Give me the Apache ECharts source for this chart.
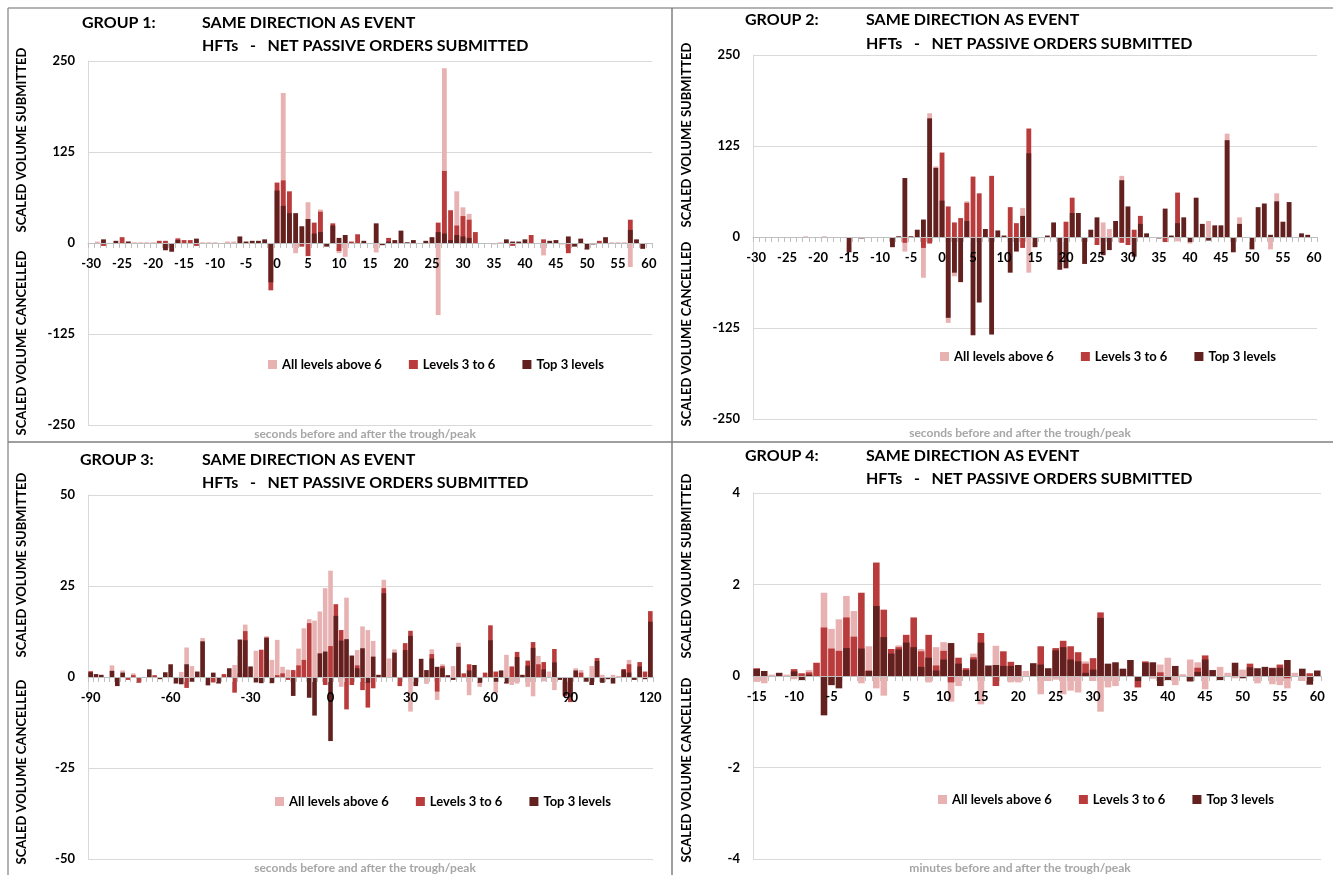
<!DOCTYPE html>
<html><head><meta charset="utf-8">
<script src="https://cdn.jsdelivr.net/npm/echarts@6/dist/echarts.min.js"></script>
<style>html,body{margin:0;padding:0;background:#fff}#c{width:1333px;height:875px}</style>
</head><body><div id="c"></div>
<script>
// ---------- categories / tick labels ----------
var secCats = [-30,-29,-28,-27,-26,-25,-24,-23,-22,-21,-20,-19,-18,-17,-16,-15,-14,-13,-12,-11,-10,-9,-8,-7,-6,-5,-4,-3,-2,-1,0,1,2,3,4,5,6,7,8,9,10,11,12,13,14,15,16,17,18,19,20,21,22,23,24,25,26,27,28,29,30,31,32,33,34,35,36,37,38,39,40,41,42,43,44,45,46,47,48,49,50,51,52,53,54,55,56,57,58,59,60];
var g3Cats = [-90,-88,-86,-84,-82,-80,-78,-76,-74,-72,-70,-68,-66,-64,-62,-60,-58,-56,-54,-52,-50,-48,-46,-44,-42,-40,-38,-36,-34,-32,-30,-28,-26,-24,-22,-20,-18,-16,-14,-12,-10,-8,-6,-4,-2,0,2,4,6,8,10,12,14,16,18,20,22,24,26,28,30,32,34,36,38,40,42,44,46,48,50,52,54,56,58,60,62,64,66,68,70,72,74,76,78,80,82,84,86,88,90,92,94,96,98,100,102,104,106,108,110,112,114,116,118,120];
var minCats = [-15,-14,-13,-12,-11,-10,-9,-8,-7,-6,-5,-4,-3,-2,-1,0,1,2,3,4,5,6,7,8,9,10,11,12,13,14,15,16,17,18,19,20,21,22,23,24,25,26,27,28,29,30,31,32,33,34,35,36,37,38,39,40,41,42,43,44,45,46,47,48,49,50,51,52,53,54,55,56,57,58,59,60];
var seriesNames = ['All levels above 6','Levels 3 to 6','Top 3 levels'];

// ---------- GROUP 1 (seconds -30..60) ----------
var g1Above6 = [0,2,0,-1,0,0,2,1,1,1,1,0,0,0,7,0,0,0,1,1,1,0,2,2,0,0,0,0,0,0,0,206,0,-14,0,56,0,46,0,0,-14,-19,0,0,0,0,-13,0,0,0,0,0,0,0,0,0,-99,240,0,71,49,40,0,0,-1,-2,1,0,0,0,0,0,0,-17,0,0,-2,0,0,0,0,0,0,0,1,1,1,-33,0,0,0];
var g1Lv36   = [0,0,-4,0,0,8,0,0,0,0,0,3,3,0,6,4,4,-4,0,0,0,0,0,0,0,0,0,0,0,-65,83,86,71,0,-5,-18,28,43,0,27,-11,0,2,12,0,0,0,0,7,0,0,0,0,0,0,0,28,99,45,24,37,32,15,0,0,0,0,0,-4,0,0,11,0,5,0,0,0,-14,0,0,0,0,3,0,0,0,0,32,0,0,0];
var g1Top3   = [-1,0,5,0,3,0,2,0,0,0,0,0,-10,-12,4,0,0,6,0,0,0,0,0,0,9,2,3,3,5,-54,72,51,41,41,23,33,13,15,-5,24,7,11,0,0,3,0,27,-3,2,4,17,1,4,0,3,8,15,13,4,11,9,7,0,0,0,0,0,5,2,2,5,0,0,0,3,4,0,9,-5,6,-9,-2,0,8,0,0,0,18,5,-8,0];

// ---------- GROUP 2 (seconds -30..60) ----------
var g2Above6 = [0,0,0,0,0,0,0,0,1,0,0,1,0,0,0,0,0,0,0,0,0,0,0,0,-20,0,0,-56,170,97,0,-118,-54,0,49,0,0,0,0,0,0,0,0,40,-49,0,0,0,0,0,0,0,0,0,0,0,20,11,0,84,0,0,0,0,0,0,0,0,-6,0,-9,0,0,22,0,0,142,0,27,0,0,0,0,-17,60,0,0,0,0,0,0];
var g2Lv36   = [0,0,0,0,0,0,0,0,0,0,0,0,0,0,0,0,0,0,0,0,0,0,0,0,-8,0,0,-15,-9,0,116,42,20,26,47,83,60,0,84,0,0,41,19,-15,149,0,0,0,0,0,21,54,0,0,0,-11,0,0,0,-8,-11,10,29,0,0,0,-7,0,61,0,0,0,0,0,0,0,0,0,0,0,0,0,0,0,0,0,0,0,0,0,0];
var g2Top3   = [0,0,0,0,0,0,0,0,0,0,0,0,0,0,0,-21,0,-2,0,0,0,0,-14,1,81,1,10,24,163,95,50,-111,-49,-62,22,-135,-90,11,-134,9,2,-49,-20,29,115,-14,-1,2,20,-45,-43,33,33,-37,10,27,-25,-18,22,78,42,-27,18,5,0,-2,39,2,19,27,-7,54,18,-5,16,16,133,-21,18,0,-17,41,46,3,49,21,48,0,5,3,0];

// ---------- GROUP 3 (seconds -90..120, every 2 s) ----------
var g3Above6 = [0,0,0,0,3.2,0,1.8,0,1,0,0,0,0,0,0,0,0,1.4,8.1,3,0,10.7,0,0,0,0,0,3.3,5.6,14.4,0,7.2,0,11.2,4.7,10.2,2.8,2,0,7.8,13.4,15.9,15.5,18,24.4,29.2,0,-2.7,21.8,0,7.4,13.9,12.9,9.9,0,26.7,5.1,7.6,0,0,-9.5,-1.9,0,-1.9,7.6,-6.3,3.5,0,3,9.4,0,-5,0,-2.7,0,0,-4.4,0,6.1,-2.2,-1.8,0,-2.7,-5.3,5.8,-1.2,1.5,-3.6,0,0,0,2.4,1.9,0,3,5.2,0.6,0,0.6,0.3,0,4.7,0,0,0,0];
var g3Lv36   = [1.6,0,0,0,0,0,0,-0.8,0.5,-1.6,0,0,0.5,0,0,0,0,0,-3,0,0,0,0,-1.5,0,0.8,0,-4.3,1,12.6,0,0,7.5,10.9,0,0.5,1,-0.8,1.9,3.2,4.7,14.8,0,0,-2.2,8.5,20,12.9,-8.9,-2.2,3.2,-3.6,-8.4,-3.1,0,24.4,0,0,-2.5,9.3,12.7,0,0,0,6.3,-4,3,0,0,0,1,3.5,0,0,1.2,14.2,1.5,0,0,2.9,6.9,0,4.5,9.6,3.5,4.1,0,7.7,0,-5.3,-6.9,0,1.2,0,0,5.2,0,0,0,0,2.2,3.5,0,4.1,1.5,18.1];
var g3Top3   = [1.3,0.8,0.6,0,1.7,-2.5,1.2,0,0,0,0,2.1,0,-0.6,1.3,3.5,-1.8,-2,3.5,-1.3,1.5,9.8,-2.3,1.2,-1.8,0,2.4,0,10.3,10.1,2.9,-1.5,-1.7,10.7,-1.7,0,0,0,-5.2,0,0,-5.7,-10.6,6.5,7,-17.6,16.8,10,10.4,5.9,2.4,7.9,-1.6,5.6,0.6,23,0,6.7,0,7.4,11.3,-2.5,5,1.9,5.1,2.8,2.4,0.5,-0.8,8.3,0,1.8,3.3,-1.6,0,10.1,-1.3,1.8,-1.8,0,5.5,0.6,3.1,8,0,2.1,0,4,-0.8,-5,-5.5,1.8,0,-1.3,-2.2,4.4,-1.6,-0.6,-1.8,0,1.9,1.2,-0.8,2.9,-0.6,15.2];

// ---------- GROUP 4 (minutes -15..60) ----------
var g4Above6 = [-0.13,-0.16,0.03,0,0.03,-0.07,0,0.13,0,1.82,1.03,1.24,1.75,1.42,-0.16,0.65,-0.27,-0.43,0,0.67,0,0,0.59,-0.14,0.63,0.74,-0.56,-0.22,0,0.49,-0.62,0,0.66,0,-0.14,-0.14,0.11,0,-0.4,-0.11,-0.08,-0.4,-0.32,-0.36,0.32,-0.11,-0.78,-0.25,-0.22,0,0,0,0,-0.06,0.25,0.4,-0.2,0.04,0.36,0.3,-0.29,0,0.2,0.07,-0.05,0.14,0,-0.16,0,-0.18,-0.2,-0.27,0.07,-0.11,0,0];
var g4Lv36   = [0.17,0,0,0,0,0.15,0.06,0.08,0.29,1.06,0.6,0.55,1.28,0.86,1.82,0.12,2.48,1.45,0.59,0.63,0.9,1.28,0.54,0.9,0.23,0.55,-0.14,0.4,0.17,0.41,0.94,0,-0.22,0.54,0.31,0,0,0,0.65,0,0.61,0.77,0.65,0.52,0.27,0.39,1.39,0,0,0,0,-0.25,0.32,0,0.08,0,0,0,0,0.18,0.45,0,0,0,0,0,0.27,0,0,0.18,0.25,-0.05,0,0,0.06,0];
var g4Top3   = [0.15,0.11,0,0.07,0,0.1,-0.09,0.03,0,-0.86,-0.2,-0.27,0.61,0,0.6,0.11,1.53,0.85,0.49,0.58,0.73,0.63,0.2,0.4,0.12,0.36,0.72,0.27,0.13,0.36,0.73,0.23,0.24,0.22,0.22,0.24,0,0.28,0.25,0.17,0.56,0.63,0.36,0.32,0.07,0.14,1.27,0.27,0.3,0.16,0.35,-0.11,0.29,0.3,-0.22,-0.09,0.22,0,-0.12,0.09,0.36,0.13,-0.09,0,0.29,-0.05,0.19,0.17,0.2,0.17,0.18,0.35,0,0.16,-0.19,0.12];

// ---------- styling ----------
var COLORS = ['#E8B2B2', '#B93B3B', '#62201F'];
var FONT = 'Lato, "Open Sans", "DejaVu Sans", sans-serif';

var panels = [
  {cats: secCats, data: [g1Above6, g1Lv36, g1Top3], grid: {left: 88, top: 61, width: 564, height: 364}, y: [-250, 250, 125], lblInt: 4, gap: '22%',
   title: [82, 202, 25, 48, 'GROUP 1:'], yname: [22, 140, 343], legend: [263, 353], xname: [365, 434, 'seconds before and after the trough/peak']},
  {cats: secCats, data: [g2Above6, g2Lv36, g2Top3], grid: {left: 753, top: 55, width: 564, height: 364}, y: [-250, 250, 125], lblInt: 4, gap: '22%',
   title: [745, 866, 22, 46, 'GROUP 2:'], yname: [687, 135, 334], legend: [935, 345], xname: [1020, 433, 'seconds before and after the trough/peak']},
  {cats: g3Cats, data: [g3Above6, g3Lv36, g3Top3], grid: {left: 88, top: 495, width: 565, height: 364}, y: [-50, 50, 25], lblInt: 14, gap: '14%',
   title: [80, 202, 462, 485, 'GROUP 3:'], yname: [22, 565, 772], legend: [270, 790], xname: [365, 868, 'seconds before and after the trough/peak']},
  {cats: minCats, data: [g4Above6, g4Lv36, g4Top3], grid: {left: 753, top: 493, width: 568, height: 366}, y: [-4, 4, 2], lblInt: 4, gap: '12%',
   title: [745, 866, 458, 481, 'GROUP 4:'], yname: [687, 566, 770], legend: [933, 788], xname: [1020, 868, 'minutes before and after the trough/peak']}
];

var grids = [], xAxes = [], yAxes = [], series = [], legends = [], graphics = [];
panels.forEach(function (p, gi) {
  grids.push(p.grid);
  xAxes.push({
    type: 'category', gridIndex: gi, data: p.cats, position: 'bottom',
    offset: -p.grid.height / 2, z: 10,
    axisLine: {onZero: false, lineStyle: {color: '#bfbfbf', width: 1}},
    axisTick: {show: true, interval: 0, length: 5, lineStyle: {color: '#bfbfbf'}},
    axisLabel: {interval: p.lblInt, margin: 14, color: '#000', fontWeight: 'bold', fontSize: 13, fontFamily: FONT},
    splitLine: {show: false}
  });
  yAxes.push({
    type: 'value', gridIndex: gi, min: p.y[0], max: p.y[1], interval: p.y[2],
    axisLine: {show: true, lineStyle: {color: '#d9d9d9'}},
    axisTick: {show: false},
    axisLabel: {margin: 13, color: '#000', fontWeight: 'bold', fontSize: 13, fontFamily: FONT},
    splitLine: {lineStyle: {color: '#d9d9d9', width: 1}}
  });
  for (var s = 0; s < 3; s++) {
    series.push({
      type: 'bar', name: seriesNames[s], xAxisIndex: gi, yAxisIndex: gi,
      data: p.data[s], barGap: '-100%', barCategoryGap: p.gap,
      itemStyle: {color: COLORS[s]}, z: 2 + s
    });
  }
  legends.push({
    data: seriesNames, left: p.legend[0], top: p.legend[1], orient: 'horizontal',
    icon: 'rect', itemWidth: 9, itemHeight: 9, itemGap: 27,
    textStyle: {color: '#000', fontWeight: 'bold', fontSize: 13, fontFamily: FONT}
  });
  var t = p.title;
  var ts = {fill: '#000', fontWeight: 'bold', fontSize: 16, fontFamily: FONT, textVerticalAlign: 'middle'};
  graphics.push({type: 'text', left: t[0], top: t[2] - 10, style: Object.assign({text: t[4]}, ts)});
  graphics.push({type: 'text', left: t[1], top: t[2] - 10, style: Object.assign({text: 'SAME DIRECTION AS EVENT'}, ts)});
  graphics.push({type: 'text', left: t[1], top: t[3] - 10, style: Object.assign({text: 'HFTs   -   NET PASSIVE ORDERS SUBMITTED'}, ts)});
  var yn = p.yname;
  var ys = {fill: '#000', fontWeight: 'bold', fontSize: 13, fontFamily: FONT, textAlign: 'center', textVerticalAlign: 'middle'};
  graphics.push({type: 'text', x: yn[0], y: yn[1], rotation: Math.PI / 2, style: Object.assign({text: 'SCALED VOLUME SUBMITTED'}, ys)});
  graphics.push({type: 'text', x: yn[0], y: yn[2], rotation: Math.PI / 2, style: Object.assign({text: 'SCALED VOLUME CANCELLED'}, ys)});
  graphics.push({type: 'text', x: p.xname[0], y: p.xname[1], style: {text: p.xname[2], fill: '#a6a6a6', fontWeight: 'bold', fontSize: 12, fontFamily: FONT, textAlign: 'center', textVerticalAlign: 'middle'}});
});

// panel frame and dividers
graphics.push({type: 'line', shape: {x1: 8, y1: 8, x2: 1333, y2: 8}, style: {stroke: '#9a9a9a', lineWidth: 1.5}});
graphics.push({type: 'line', shape: {x1: 8, y1: 8, x2: 8, y2: 875}, style: {stroke: '#9a9a9a', lineWidth: 1.5}});
graphics.push({type: 'line', shape: {x1: 672, y1: 8, x2: 672, y2: 875}, style: {stroke: '#7f7f7f', lineWidth: 1.5}});
graphics.push({type: 'line', shape: {x1: 8, y1: 442, x2: 1333, y2: 442}, style: {stroke: '#7f7f7f', lineWidth: 1.5}});

var chart = echarts.init(document.getElementById('c'), null, {renderer: 'canvas'});
chart.setOption({
  animation: false,
  backgroundColor: '#fff',
  grid: grids, xAxis: xAxes, yAxis: yAxes, series: series, legend: legends,
  graphic: graphics
});
</script></body></html>
